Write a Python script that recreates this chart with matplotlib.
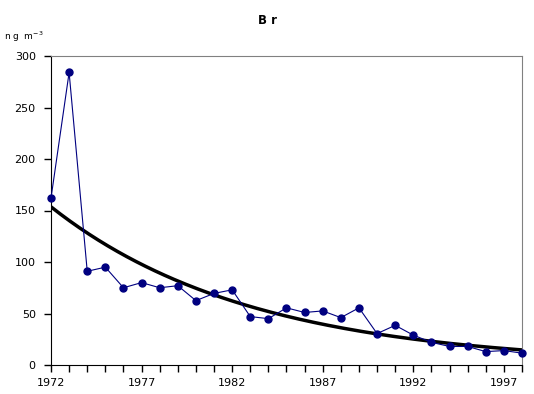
import numpy as np
import matplotlib.pyplot as plt
from matplotlib.ticker import MultipleLocator

# Br concentration, ng m-3
years = np.arange(1972, 1999)
br = [162, 284, 91, 95, 75, 80, 75, 77, 62.5, 69.5, 73, 47, 45,
      55.5, 51, 52.5, 46, 55.5, 30.5, 38.5, 29, 22, 18, 18, 13, 14, 11.5]
xticks = years[::5]

# exponential trendline fitted to the data (like Excel)
k, c = np.polyfit(years - years[0], np.log(br), 1)
xt = np.linspace(1972, 1998, 200)
trend = np.exp(c + k * (xt - 1972))

fig = plt.figure(figsize=(5.34, 3.94), dpi=100)
ax = fig.add_axes([51 / 534, 1 - 365 / 394, 471 / 534, 309 / 394])

ax.plot(years, br, color="#000080", lw=0.8, marker="o", ms=5, clip_on=False, zorder=3)
ax.plot(xt, trend, color="black", lw=2.5, zorder=2)

ax.set_xlim(1972, 1998)
ax.set_ylim(0, 300)
ax.set_xticks(xticks)
ax.xaxis.set_minor_locator(MultipleLocator(1))
ax.yaxis.set_major_locator(MultipleLocator(50))
ax.tick_params(axis="both", which="both", direction="out", length=5, width=1,
               labelsize=8, color="black")
ax.tick_params(axis="x", pad=4)
ax.tick_params(axis="y", pad=6)
for s in ["top", "right"]:
    ax.spines[s].set_color("#808080")
for s in ["left", "bottom"]:
    ax.spines[s].set_color("black")

fig.text(0.5, 1 - 20 / 394, "B r", ha="center", va="center", fontsize=8.5, fontweight="bold")
fig.text(4 / 534, 1 - 37 / 394, r"n g  m$^{\mathregular{-3}}$", ha="left", va="center", fontsize=6.5)

fig.savefig("out.png", dpi=100)
